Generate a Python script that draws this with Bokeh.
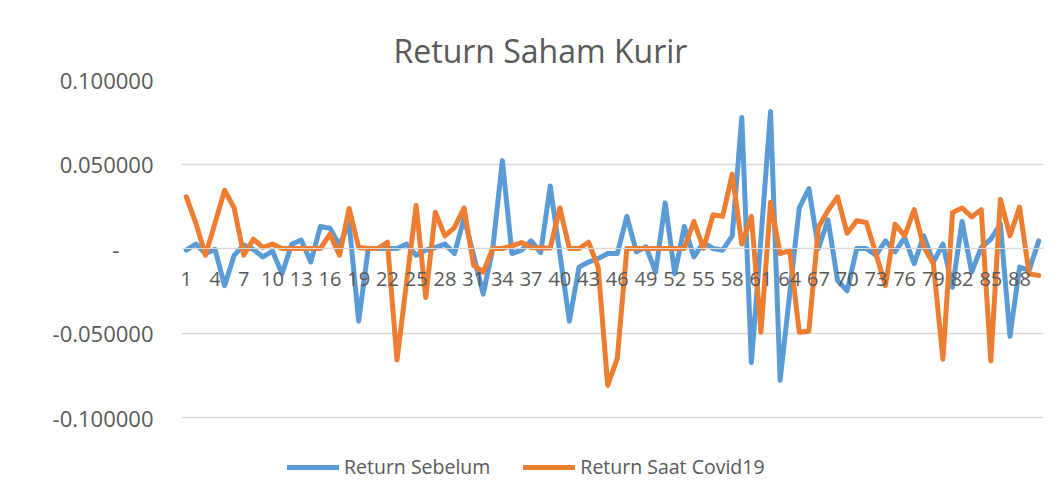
from bokeh.plotting import figure
from bokeh.models import FixedTicker, Range1d, Legend, LegendItem
from bokeh.embed import file_html
from bokeh.resources import INLINE

# ---- data ----
periods = list(range(1, 91))
return_sebelum = [
    -0.001, 0.0026, -0.003, -0.0005, -0.022, -0.004, 0.002, -0.0005, -0.005, -0.0015,
    -0.015, 0.0025, 0.005, -0.008, 0.013, 0.012, 0.002, 0.015, -0.043, 0.0,
    0.0, 0.0, 0.0, 0.0026, -0.004, -0.001, 0.0006, 0.0026, -0.003, 0.018,
    -0.004, -0.027, 0.0, 0.052, -0.003, -0.001, 0.0045, -0.0024, 0.037, -0.003,
    -0.043, -0.011, -0.008, -0.006, -0.003, -0.003, 0.019, -0.002, 0.001, -0.014,
    0.027, -0.015, 0.013, -0.005, 0.0035, 0.0, -0.001, 0.0075, 0.0775, -0.0675,
    0.006, 0.081, -0.078, -0.027, 0.024, 0.0355, 0.0, 0.017, -0.019, -0.025,
    0.0, 0.0, -0.004, 0.0045, -0.002, 0.0065, -0.009, 0.0075, -0.008, 0.0026,
    -0.023, 0.016, -0.014, 0.0006, 0.0055, 0.0144, -0.052, -0.011, -0.013, 0.0045,
]
return_saat_covid19 = [
    0.0306, 0.015, -0.004, 0.015, 0.0345, 0.024, -0.004, 0.0055, 0.0006, 0.0026,
    0.0, 0.0, 0.0, 0.0, 0.0, 0.0085, -0.004, 0.0237, 0.0006, 0.0,
    0.0, 0.0037, -0.066, -0.020, 0.0254, -0.029, 0.0215, 0.0075, 0.0124, 0.024,
    -0.010, -0.014, 0.0, 0.0, 0.0015, 0.0035, 0.0006, 0.0003, 0.0003, 0.024,
    0.0, 0.0, 0.0037, -0.011, -0.081, -0.065, 0.0, 0.0, 0.0, 0.0,
    0.0, 0.0, 0.0, 0.016, 0.0, 0.020, 0.019, 0.044, 0.0026, 0.019,
    -0.0495, 0.0274, -0.003, -0.0012, -0.0495, -0.049, 0.0126, 0.0225, 0.0306, 0.009,
    0.0164, 0.0154, -0.003, -0.022, 0.0144, 0.0075, 0.023, 0.001, -0.009, -0.0655,
    0.0213, 0.024, 0.0187, 0.023, -0.0665, 0.029, 0.0075, 0.0245, -0.015, -0.016,
]
x_ticks = list(range(1, 91, 3))
y_ticks = [-0.1, -0.05, 0.0, 0.05, 0.1]
y_tick_labels = ["-0.100000", "-0.050000", "-\u00a0\u00a0\u00a0\u00a0\u00a0\u00a0", "0.050000", "0.100000"]
title_text = "Return Saham Kurir"
series_names = ["Return Sebelum", "Return Saat Covid19"]

BLUE = "#5b9bd5"
ORANGE = "#ed7d31"
TXT = "#595959"
GRID = "#d9d9d9"
FONT = "Open Sans"

W, H = 1053, 494
ML, MR, MT, MB = 181, 10, 79, 2
Y_MAX, Y_MIN_AXIS = 0.1, -0.1
AXIS_PX = 338                      # pixel height of the -0.1..0.1 value axis
frame_h = H - MT - MB
# the plot frame continues below the value axis to hold the legend
y_lo = Y_MAX - (Y_MAX - Y_MIN_AXIS) * frame_h / AXIS_PX

p = figure(width=W, height=H, output_backend="svg", toolbar_location=None,
           title=title_text,
           x_range=Range1d(0.5, 90.5), y_range=Range1d(y_lo, Y_MAX),
           min_border_left=ML, min_border_right=MR, min_border_top=MT, min_border_bottom=MB,
           outline_line_color=None, background_fill_color="white", border_fill_color="white")

r1 = p.line(periods, return_sebelum, line_color=BLUE, line_width=5, line_join="round", line_cap="round")
r2 = p.line(periods, return_saat_covid19, line_color=ORANGE, line_width=5, line_join="round", line_cap="round")

# title
p.title.align = "left"
p.title.offset = 212
p.title.standoff = 16
p.title.text_font = FONT
p.title.text_font_size = "32px"
p.title.text_font_style = "normal"
p.title.text_color = TXT

# grid
p.xgrid.visible = False
p.ygrid.ticker = FixedTicker(ticks=y_ticks)
p.ygrid.grid_line_color = GRID
p.ygrid.grid_line_width = 1.3

# x axis crossing at zero
xa = p.xaxis[0]
xa.fixed_location = 0
xa.ticker = FixedTicker(ticks=x_ticks)
xa.axis_line_color = GRID
xa.major_tick_line_color = None
xa.minor_tick_line_color = None
xa.major_tick_out = 0
xa.major_tick_in = 0
xa.major_label_standoff = 23
xa.major_label_text_font = FONT
xa.major_label_text_font_size = "20px"
xa.major_label_text_color = TXT

ya = p.yaxis[0]
ya.ticker = FixedTicker(ticks=y_ticks)
ya.major_label_overrides = {t: lab for t, lab in zip(y_ticks, y_tick_labels)}
ya.axis_line_color = None
ya.major_tick_line_color = None
ya.minor_tick_line_color = None
ya.major_tick_out = 0
ya.major_tick_in = 0
ya.major_label_standoff = 28
ya.major_label_text_font = FONT
ya.major_label_text_font_size = "22px"
ya.major_label_text_color = TXT

legend = Legend(items=[LegendItem(label=series_names[0], renderers=[r1]),
                       LegendItem(label=series_names[1], renderers=[r2])],
                orientation="horizontal", location=(106, 12),
                glyph_width=52, glyph_height=20, label_standoff=5, spacing=33,
                padding=0, margin=0, border_line_color=None, background_fill_alpha=0,
                label_text_font=FONT, label_text_font_size="19.5px", label_text_color=TXT,
                label_height=20)
p.add_layout(legend)

open("out.html", "w").write(file_html(p, INLINE))
